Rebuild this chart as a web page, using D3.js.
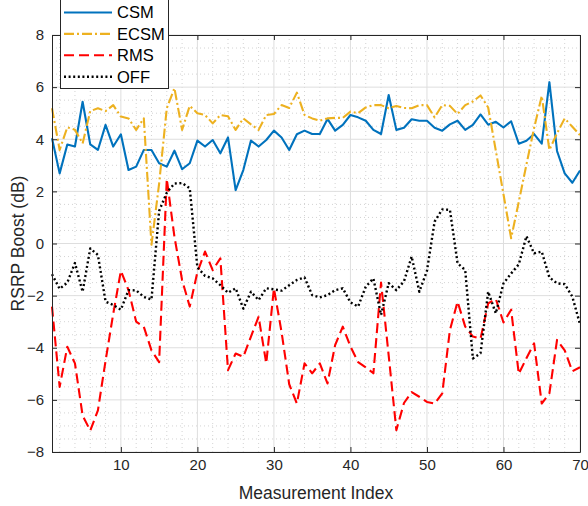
<!DOCTYPE html>
<html>
<head>
<meta charset="utf-8">
<script src="https://cdn.jsdelivr.net/npm/d3@7"></script>
<style>
  html, body { margin: 0; padding: 0; background: #fff; }
  svg { display: block; font-family: "Liberation Sans", Arial, Helvetica, sans-serif; }
</style>
</head>
<body>
<svg id="chart" width="588" height="506"></svg>
<script>
// Measurement index (1..70)
const measurementIndex = d3.range(1, 71);

const csm = [4.04, 2.69, 3.80, 3.72, 5.44, 3.80, 3.59, 4.55, 3.72, 4.19,
             2.82, 2.95, 3.59, 3.59, 3.08, 2.95, 3.56, 2.85, 3.08, 3.95,
             3.72, 3.97, 3.46, 4.07, 2.05, 2.82, 3.95, 3.72, 3.97, 4.33,
             4.07, 3.59, 4.19, 4.33, 4.20, 4.20, 4.78, 4.33, 4.55, 4.93,
             4.84, 4.71, 4.36, 4.20, 5.70, 4.36, 4.44, 4.77, 4.71, 4.71,
             4.44, 4.33, 4.57, 4.71, 4.36, 4.55, 4.95, 4.56, 4.67, 4.45,
             4.69, 3.83, 3.94, 4.20, 3.83, 6.19, 3.55, 2.69, 2.33, 2.80];

const ecsm = [5.19, 3.59, 4.46, 4.36, 3.84, 5.08, 5.19, 5.08, 5.31, 4.87,
              4.80, 4.36, 4.80, -0.05, 2.30, 5.19, 5.96, 4.36, 5.28, 5.00,
              4.93, 4.61, 4.93, 4.88, 4.36, 4.80, 4.57, 4.36, 4.93, 4.97,
              5.31, 5.20, 5.79, 4.93, 4.80, 4.71, 4.80, 4.82, 4.82, 5.06,
              5.00, 5.22, 5.31, 5.31, 5.19, 5.28, 5.20, 5.19, 5.31, 5.31,
              4.84, 5.31, 5.28, 4.97, 5.31, 5.45, 5.68, 5.22, 3.56, 1.89,
              0.20, 1.60, 3.03, 4.43, 5.66, 3.59, 4.23, 4.80, 4.48, 4.16];

const rms = [-2.42, -5.50, -3.96, -4.60, -6.60, -7.18, -6.40, -4.50, -2.70, -1.05,
             -1.79, -3.00, -3.20, -4.10, -4.55, 2.48, 0.26, -1.40, -2.42, -1.10,
             -0.31, -1.02, -0.57, -4.86, -4.22, -4.35, -3.57, -2.81, -4.60, -1.72,
             -3.40, -5.40, -6.14, -4.60, -4.98, -4.60, -5.37, -3.90, -3.19, -3.95,
             -4.55, -4.75, -4.98, -1.50, -4.30, -7.16, -6.12, -5.70, -5.88, -6.08,
             -6.14, -5.75, -3.32, -2.23, -3.19, -3.57, -3.65, -2.30, -2.13, -3.03,
             -2.54, -5.00, -4.40, -3.83, -6.14, -5.75, -3.70, -4.10, -4.90, -4.75];

const off = [-1.18, -1.74, -1.50, -0.75, -1.85, -0.19, -0.44, -2.23, -2.36, -2.54,
             -1.79, -1.80, -2.05, -2.15, 1.25, 1.95, 2.30, 2.32, 2.12, -0.92,
             -1.24, -1.34, -1.60, -1.89, -1.72, -2.50, -1.85, -2.17, -1.72, -1.76,
             -1.81, -1.60, -1.40, -1.30, -1.98, -2.07, -1.98, -1.79, -1.72, -2.26,
             -2.42, -1.66, -1.34, -2.74, -1.52, -1.79, -1.45, -0.50, -1.85, -1.05,
             0.84, 1.31, 1.29, -0.76, -1.02, -4.41, -4.21, -1.85, -2.68, -1.53,
             -1.15, -0.80, 0.28, -0.38, -0.31, -1.30, -1.53, -1.56, -2.04, -3.10];

const seriesNames = ["CSM", "ECSM", "RMS", "OFF"];
const seriesValues = [csm, ecsm, rms, off];
const seriesColors = ["#0072BD", "#EDB120", "#FF0000", "#000000"];
const seriesDash = [null, "10,3,2,3", "10,5", "2,2.6"];

const xTicks = [10, 20, 30, 40, 50, 60, 70];
const yTicks = [-8, -6, -4, -2, 0, 2, 4, 6, 8];

const svg = d3.select("#chart");
const margin = { left: 52, right: 8, top: 35, bottom: 54 };
const W = 588, H = 506;
const x = d3.scaleLinear().domain([1, 70]).range([margin.left, W - margin.right]);
const y = d3.scaleLinear().domain([-8, 8]).range([H - margin.bottom, margin.top]);
const x0 = x.range()[0], x1 = x.range()[1];
const y0 = y.range()[0], y1 = y.range()[1];

const axisColor = "#262626";

// minor grid (dotted)
const gMinor = svg.append("g");
const xMinor = d3.range(2, 70, 2).filter(v => v % 10 !== 0);
const yMinor = d3.range(-7.5, 8, 0.5).filter(v => v % 2 !== 0);
gMinor.selectAll("line.xm").data(xMinor).join("line")
  .attr("x1", d => x(d)).attr("x2", d => x(d)).attr("y1", y0).attr("y2", y1)
  .attr("stroke", "#c8c8c8").attr("stroke-width", 0.8).attr("stroke-dasharray", "1,3");
gMinor.selectAll("line.ym").data(yMinor).join("line")
  .attr("y1", d => y(d)).attr("y2", d => y(d)).attr("x1", x0).attr("x2", x1)
  .attr("stroke", "#c8c8c8").attr("stroke-width", 0.8).attr("stroke-dasharray", "1,3");

// major grid
const gMajor = svg.append("g");
gMajor.selectAll("line.xg").data(xTicks).join("line")
  .attr("x1", d => x(d)).attr("x2", d => x(d)).attr("y1", y0).attr("y2", y1)
  .attr("stroke", "#dedede").attr("stroke-width", 1);
gMajor.selectAll("line.yg").data(yTicks).join("line")
  .attr("y1", d => y(d)).attr("y2", d => y(d)).attr("x1", x0).attr("x2", x1)
  .attr("stroke", "#dedede").attr("stroke-width", 1);

// series lines
const line = d3.line().x((d, i) => x(measurementIndex[i])).y(d => y(d));
seriesValues.forEach((vals, k) => {
  svg.append("path")
    .datum(vals)
    .attr("d", line)
    .attr("fill", "none")
    .attr("stroke", seriesColors[k])
    .attr("stroke-width", k === 3 ? 2.4 : 2.1)
    .attr("stroke-linejoin", "round")
    .attr("stroke-dasharray", seriesDash[k]);
});

// axes with inward ticks
function styleAxis(g) {
  g.select(".domain").attr("stroke", axisColor).attr("stroke-width", 1);
  g.selectAll(".tick line").attr("stroke", axisColor);
  g.selectAll(".tick text").attr("fill", axisColor).style("font-size", "15px")
    .style("font-family", "'Liberation Sans', Arial, sans-serif");
}
svg.append("g").attr("transform", `translate(0,${y0})`)
  .call(d3.axisBottom(x).tickValues(xTicks).tickSizeInner(-5).tickSizeOuter(0).tickPadding(7))
  .call(styleAxis);
svg.append("g").attr("transform", `translate(${x0},0)`)
  .call(d3.axisLeft(y).tickValues(yTicks).tickSizeInner(-5).tickSizeOuter(0).tickPadding(8))
  .call(styleAxis);
svg.append("g").attr("transform", `translate(0,${y1})`)
  .call(d3.axisTop(x).tickValues(xTicks).tickSizeInner(-5).tickSizeOuter(0).tickFormat(""))
  .call(styleAxis);
svg.append("g").attr("transform", `translate(${x1},0)`)
  .call(d3.axisRight(y).tickValues(yTicks).tickSizeInner(-5).tickSizeOuter(0).tickFormat(""))
  .call(styleAxis);

// axis labels
svg.append("text")
  .attr("x", (x0 + x1) / 2).attr("y", 499)
  .attr("text-anchor", "middle").attr("fill", axisColor)
  .style("font-size", "17.5px").text("Measurement Index");
svg.append("text")
  .attr("transform", `translate(24,${(y0 + y1) / 2}) rotate(-90)`)
  .attr("text-anchor", "middle").attr("fill", axisColor)
  .style("font-size", "17.5px").text("RSRP Boost (dB)");

// legend
const lg = svg.append("g");
lg.append("rect").attr("x", 60.5).attr("y", -8).attr("width", 108).attr("height", 96.5)
  .attr("fill", "#fff").attr("stroke", axisColor).attr("stroke-width", 1);
seriesNames.forEach((name, k) => {
  const cy = 12.5 + k * 21.4;
  lg.append("line").attr("x1", 64).attr("x2", 112).attr("y1", cy).attr("y2", cy)
    .attr("stroke", seriesColors[k]).attr("stroke-width", k === 3 ? 2.4 : 2.1)
    .attr("stroke-dasharray", seriesDash[k]);
  lg.append("text").attr("x", 117).attr("y", cy).attr("dy", "0.36em")
    .attr("fill", "#000").style("font-size", "16.5px").text(name);
});
</script>
</body>
</html>
